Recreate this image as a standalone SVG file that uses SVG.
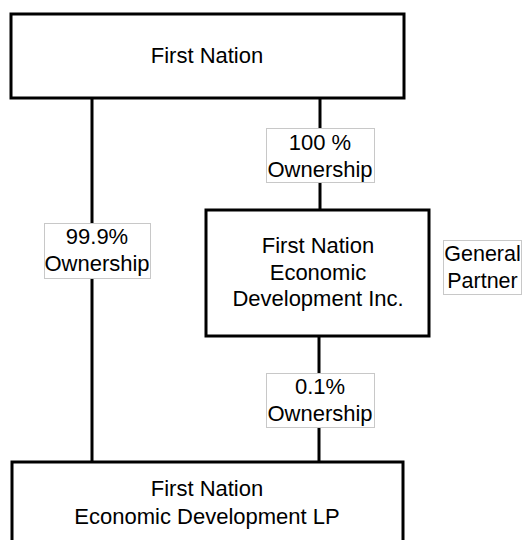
<svg xmlns="http://www.w3.org/2000/svg" width="525" height="540" viewBox="0 0 525 540">
<style>
.box{fill:#fff;stroke:#000;stroke-width:3}
.lbl{fill:#fff;stroke:#c8c8c8;stroke-width:1}
.ln{stroke:#000;stroke-width:3;fill:none}
text{font-family:"Liberation Sans",Arial,sans-serif;font-size:22px;fill:#000;text-anchor:middle}
</style>
<rect width="525" height="540" fill="#fff"/>
<g id="connectors">
<line class="ln" x1="92" y1="98" x2="92" y2="462"/>
<line class="ln" x1="320" y1="98" x2="320" y2="210"/>
<line class="ln" x1="319" y1="336" x2="319" y2="462"/>
</g>
<g id="first-nation">
<rect class="box" x="11" y="14" width="393" height="84"/>
<text x="207" y="63">First Nation</text>
</g>
<g id="fned-inc">
<rect class="box" x="206" y="210" width="223" height="126"/>
<text x="318" y="253">First Nation</text>
<text x="318" y="280">Economic</text>
<text x="318" y="306">Development Inc.</text>
</g>
<g id="fned-lp">
<rect class="box" x="12" y="462" width="391" height="90"/>
<text x="207" y="496">First Nation</text>
<text x="207" y="524">Economic Development LP</text>
</g>
<g id="label-100">
<rect class="lbl" x="266.5" y="128.5" width="108" height="54"/>
<text x="320" y="150">100 %</text>
<text x="320" y="177">Ownership</text>
</g>
<g id="label-999">
<rect class="lbl" x="44.5" y="223.5" width="106" height="55"/>
<text x="97" y="244">99.9%</text>
<text x="97" y="271">Ownership</text>
</g>
<g id="label-01">
<rect class="lbl" x="266.5" y="373.5" width="108" height="54"/>
<text x="320" y="394">0.1%</text>
<text x="320" y="421">Ownership</text>
</g>
<g id="label-gp">
<rect class="lbl" x="443.5" y="240.5" width="78" height="54"/>
<text x="482.5" y="261" style="font-size:21.5px">General</text>
<text x="482.5" y="288" style="font-size:21.5px">Partner</text>
</g>
</svg>
